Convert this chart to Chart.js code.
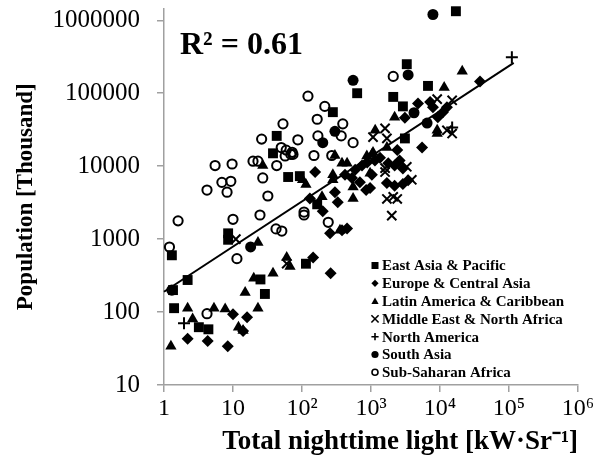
<!DOCTYPE html>
<html><head><meta charset="utf-8">
<script src="https://cdn.jsdelivr.net/npm/chart.js@4.4.1/dist/chart.umd.min.js"></script>
<style>html,body{margin:0;padding:0;background:#fff}#wrap{width:605px;height:470px}</style>
</head><body><div id="wrap"><canvas id="c" width="605" height="470"></canvas></div>
<script>
// ---- tick labels ----
const xTickValues = [1, 10, 100, 1000, 10000, 100000, 1000000];
const xTickLabels = ['1', '10', '10²', '10³', '10⁴', '10⁵', '10⁶'];
const yTickValues = [10, 100, 1000, 10000, 100000, 1000000];
const yTickLabels = ['10', '100', '1000', '10000', '100000', '1000000'];

// ---- series (x = total nighttime light, y = population in thousands) ----
const eapX = [17000, 3300, 6700, 2100, 2900, 3100, 630, 280, 43, 38, 63, 93, 166, 8.5, 8.5, 1.3, 1.35, 2.2, 1.4, 3.2, 4.4, 25, 29, 114];
const eapY = [1330000, 250000, 126000, 89000, 66000, 24000, 100000, 55000, 26000, 15000, 7100, 7300, 3000, 1200, 980, 600, 200, 275, 113, 62, 58, 280, 177, 460];

const ecaX = [38000, 7200, 7900, 12600, 11000, 9300, 3100, 5500, 1350, 1780, 2200, 2900, 2600, 1700, 2200, 2900, 3450, 155, 970, 740, 880, 1140, 850, 690, 300, 330, 255, 380, 450, 145, 260, 130, 200, 10, 16, 14, 2.2, 4.3, 8.4, 530, 590, 420, 1030, 4800, 2400];
const ecaY = [145000, 76000, 64000, 64000, 55000, 47000, 46000, 18000, 13000, 11000, 10200, 9300, 12000, 5900, 5400, 5700, 6400, 8300, 5000, 10200, 11200, 12000, 4700, 6000, 4400, 3200, 1200, 1320, 1400, 560, 340, 3600, 2400, 93, 85, 55, 43, 40, 34, 6900, 8900, 7600, 7600, 72000, 16600];

const lacX = [21000, 11500, 2200, 9100, 1700, 1150, 1070, 300, 380, 450, 27, 102, 280, 195, 550, 355, 23, 60, 67, 38, 20, 15, 2.2, 2.6, 5.3, 7.7, 12, 14, 23, 1.26, 1030, 970, 280, 550, 114, 870, 9100];
const lacY = [200000, 120000, 47000, 28000, 18000, 31000, 15400, 14000, 11000, 11000, 10200, 6500, 7600, 3800, 3600, 1320, 900, 560, 420, 340, 290, 185, 113, 80, 113, 110, 62, 56, 113, 34, 14400, 8000, 6500, 5200, 5600, 13800, 31000];

const menaX = [15000, 9100, 15000, 12600, 1600, 1700, 3300, 1600, 3900, 2100, 2400, 2000, 1070, 60, 11, 1700, 1600];
const menaY = [80000, 83000, 28000, 31000, 33000, 24000, 9800, 8300, 6500, 3800, 3550, 2100, 25000, 460, 1000, 3550, 9400];

const naX = [110000, 15000, 1.95];
const naY = [310000, 34000, 70];

const saX = [7900, 550, 3450, 4200, 6500, 300, 200, 18];
const saY = [1200000, 150000, 178000, 54000, 39000, 30000, 21000, 780];

const ssaX = [1.2, 1.6, 5.5, 9.7, 6.9, 9.3, 4.2, 8.2, 10, 24.6, 27, 32, 11.4, 42, 51, 107, 107, 240, 1.3, 4.2, 19.5, 23, 43, 57, 69, 74, 149, 270, 122, 214, 166, 390, 53, 26, 87, 170, 370, 550, 50, 59, 72, 2100];
const ssaY = [780, 1780, 10200, 10700, 6000, 6200, 4700, 4400, 1870, 2140, 6900, 3900, 540, 1380, 1290, 2350, 2140, 1700, 200, 95, 11700, 11700, 10200, 13800, 14500, 14500, 14000, 14000, 91000, 66000, 44000, 38000, 38000, 23500, 23000, 26000, 26000, 21000, 18000, 16600, 15500, 170000];

// trend line end points
const trendX = [1, 117000];
const trendY = [190, 260000];

const regionNames = ['East Asia & Pacific', 'Europe & Central Asia', 'Latin America & Caribbean', 'Middle East & North Africa', 'North America', 'South Asia', 'Sub-Saharan Africa'];
const r2Text = 'R² = 0.61';

const SERIF = "'Liberation Serif','Times New Roman',serif";
const pts = (xs, ys) => xs.map((x, i) => ({x: x, y: ys[i]}));

const styles = [
  {pointStyle: 'rect', pointRadius: 7, backgroundColor: '#000', borderColor: '#000', borderWidth: 0},
  {pointStyle: 'rectRot', pointRadius: 6, backgroundColor: '#000', borderColor: '#000', borderWidth: 0},
  {pointStyle: 'triangle', pointRadius: 6.5, backgroundColor: '#000', borderColor: '#000', borderWidth: 0},
  {pointStyle: 'crossRot', pointRadius: 6.5, backgroundColor: '#000', borderColor: '#000', borderWidth: 2},
  {pointStyle: 'cross', pointRadius: 6, backgroundColor: '#000', borderColor: '#000', borderWidth: 2},
  {pointStyle: 'circle', pointRadius: 5.5, backgroundColor: '#000', borderColor: '#000', borderWidth: 0},
  {pointStyle: 'circle', pointRadius: 4.6, backgroundColor: 'rgba(0,0,0,0)', borderColor: '#000', borderWidth: 2}
];
const seriesData = [pts(eapX, eapY), pts(ecaX, ecaY), pts(lacX, lacY), pts(menaX, menaY), pts(naX, naY), pts(saX, saY), pts(ssaX, ssaY)];

const datasets = seriesData.map((d, i) => Object.assign({label: regionNames[i], data: d, clip: false, showLine: false}, styles[i]));
datasets.push({label: 'trend', data: pts(trendX, trendY), showLine: true, borderColor: '#000', borderWidth: 2, pointRadius: 0, fill: false, clip: false});

function drawMarker(ctx, st, x, y, r) {
  ctx.save();
  ctx.fillStyle = '#000'; ctx.strokeStyle = '#000'; ctx.lineWidth = 1.6;
  ctx.beginPath();
  if (st === 'rect') { ctx.rect(x - r, y - r, 2 * r, 2 * r); ctx.fill(); }
  else if (st === 'rectRot') { ctx.moveTo(x, y - r); ctx.lineTo(x + r, y); ctx.lineTo(x, y + r); ctx.lineTo(x - r, y); ctx.closePath(); ctx.fill(); }
  else if (st === 'triangle') { ctx.moveTo(x, y - r); ctx.lineTo(x + r, y + r * 0.8); ctx.lineTo(x - r, y + r * 0.8); ctx.closePath(); ctx.fill(); }
  else if (st === 'crossRot') { ctx.moveTo(x - r, y - r); ctx.lineTo(x + r, y + r); ctx.moveTo(x + r, y - r); ctx.lineTo(x - r, y + r); ctx.stroke(); }
  else if (st === 'cross') { ctx.moveTo(x - r, y); ctx.lineTo(x + r, y); ctx.moveTo(x, y - r); ctx.lineTo(x, y + r); ctx.stroke(); }
  else if (st === 'filled') { ctx.arc(x, y, r, 0, Math.PI * 2); ctx.fill(); }
  else { ctx.arc(x, y, r - 0.6, 0, Math.PI * 2); ctx.stroke(); }
  ctx.restore();
}

const overlayPlugin = {
  id: 'overlay',
  afterDraw(chart) {
    const ctx = chart.ctx;
    const area = chart.chartArea;
    ctx.save();
    ctx.fillStyle = '#000';
    ctx.font = 'bold 32px ' + SERIF;
    ctx.textAlign = 'left'; ctx.textBaseline = 'alphabetic';
    ctx.fillText(r2Text, area.left + 16, area.top + 45);
    const mk = ['rect', 'rectRot', 'triangle', 'crossRot', 'cross', 'filled', 'open'];
    ctx.font = 'bold 15px ' + SERIF;
    ctx.textBaseline = 'middle';
    const lx = area.left + 211, ly0 = area.top + 257, step = 17.8;
    for (let i = 0; i < regionNames.length; i++) {
      const y = ly0 + i * step;
      drawMarker(ctx, mk[i], lx, y, mk[i] === 'rect' ? 3.5 : 3.6);
      ctx.fillStyle = '#000';
      ctx.fillText(regionNames[i], lx + 7, y + 1);
    }
    ctx.restore();
  }
};

new Chart(document.getElementById('c'), {
  type: 'scatter',
  data: {datasets: datasets},
  plugins: [overlayPlugin],
  options: {
    responsive: false,
    animation: false,
    events: [],
    layout: {padding: {top: 8, right: 27, left: 0, bottom: 0}},
    plugins: {legend: {display: false}, tooltip: {enabled: false}},
    scales: {
      x: {
        type: 'logarithmic', min: 1, max: 1000000, position: 'bottom',
        afterBuildTicks: ax => { ax.ticks = xTickValues.map(v => ({value: v})); },
        afterFit: ax => { ax.height = 85; ax.paddingLeft = 0; ax.paddingRight = 0; },
        ticks: {callback: (v, i) => xTickLabels[i], font: {family: SERIF, size: 24}, color: '#000', padding: 2, maxRotation: 0, autoSkip: false},
        grid: {display: true, drawOnChartArea: false, drawTicks: true, tickLength: 7, color: '#a0a0a0', lineWidth: 1.5},
        border: {display: true, color: '#a0a0a0', width: 1.5},
        title: {display: true, text: 'Total nighttime light [kW·Sr⁻¹]', align: 'end', color: '#000', font: {family: SERIF, size: 27, weight: 'bold'}, padding: {top: 0, bottom: 12}}
      },
      y: {
        type: 'logarithmic', min: 10, max: 1450000, position: 'left',
        afterBuildTicks: ax => { ax.ticks = yTickValues.map(v => ({value: v})); },
        afterFit: ax => { ax.width = 164; ax.paddingTop = 0; ax.paddingBottom = 0; },
        ticks: {callback: (v, i) => yTickLabels[i], font: {family: SERIF, size: 25}, color: '#000', padding: 17, autoSkip: false},
        grid: {display: true, drawOnChartArea: false, drawTicks: true, tickLength: 7, color: '#a0a0a0', lineWidth: 1.5},
        border: {display: true, color: '#a0a0a0', width: 1.5},
        title: {display: true, text: 'Population [Thousand]', color: '#000', font: {family: SERIF, size: 23, weight: 'bold'}, padding: {top: 12, bottom: 0}}
      }
    }
  }
});
</script>
</body></html>
